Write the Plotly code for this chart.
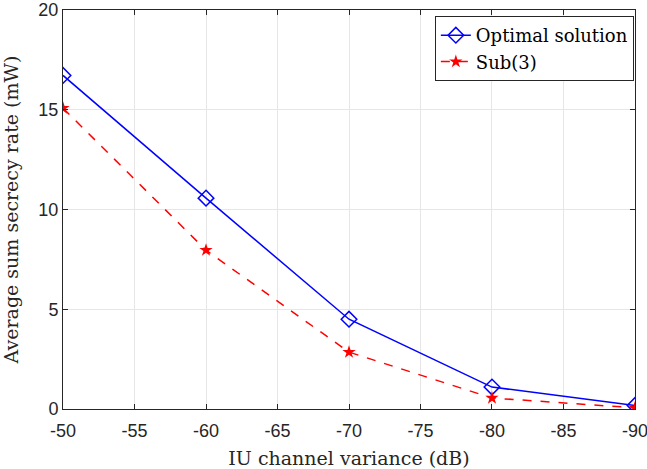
import plotly.graph_objects as go

x_vals = [-50, -60, -70, -80, -90]
optimal = [16.72, 10.57, 4.5, 1.1, 0.18]
sub3 = [15.08, 7.96, 2.85, 0.55, 0.06]
x_ticks = [-50, -55, -60, -65, -70, -75, -80, -85, -90]
y_ticks = [0, 5, 10, 15, 20]

fig = go.Figure()
fig.add_trace(go.Scatter(
    x=x_vals, y=optimal, mode="lines+markers", name="Optimal solution",
    line=dict(color="#0000ff", width=1.5),
    marker=dict(symbol="diamond-open", size=12, color="#0000ff", line=dict(width=1.5)),
))
fig.add_trace(go.Scatter(
    x=x_vals, y=sub3, mode="lines+markers", name="Sub(3)",
    line=dict(color="#ff0000", width=1.5, dash="dash"),
    marker=dict(symbol="star", size=10, color="#ff0000"),
))

serif = "DejaVu Serif, Liberation Serif, serif"
axis_common = dict(
    showgrid=True, gridcolor="#e6e6e6", gridwidth=1,
    showline=True, linecolor="#262626", linewidth=1, mirror="ticks",
    ticks="inside", ticklen=5, tickcolor="#262626",
    tickfont=dict(family="Liberation Sans, Arial", size=18, color="#262626"),
    zeroline=False, automargin=False,
)

fig.update_layout(
    width=647, height=469,
    margin=dict(l=63, r=12, t=10, b=60),
    paper_bgcolor="white", plot_bgcolor="white",
    xaxis=dict(
        range=[-49.999, -90.001], tickvals=x_ticks, ticktext=[str(t) for t in x_ticks],
        ticklabeloverflow="allow", ticklabelstandoff=5,
        title=dict(text="IU channel variance (dB)",
                   font=dict(family=serif, size=19, color="#262626")),
        **axis_common,
    ),
    yaxis=dict(
        range=[0, 20], tickvals=y_ticks,
        title=dict(text="Average sum secrecy rate (mW)",
                   font=dict(family=serif, size=19, color="#262626")),
        **axis_common,
    ),
    legend=dict(
        x=0.998, y=0.985, xanchor="right", yanchor="top",
        bgcolor="white", bordercolor="#262626", borderwidth=1,
        font=dict(family=serif, size=18, color="black"),
        tracegroupgap=0,
    ),
    showlegend=True,
)

fig.write_html("out.html")
